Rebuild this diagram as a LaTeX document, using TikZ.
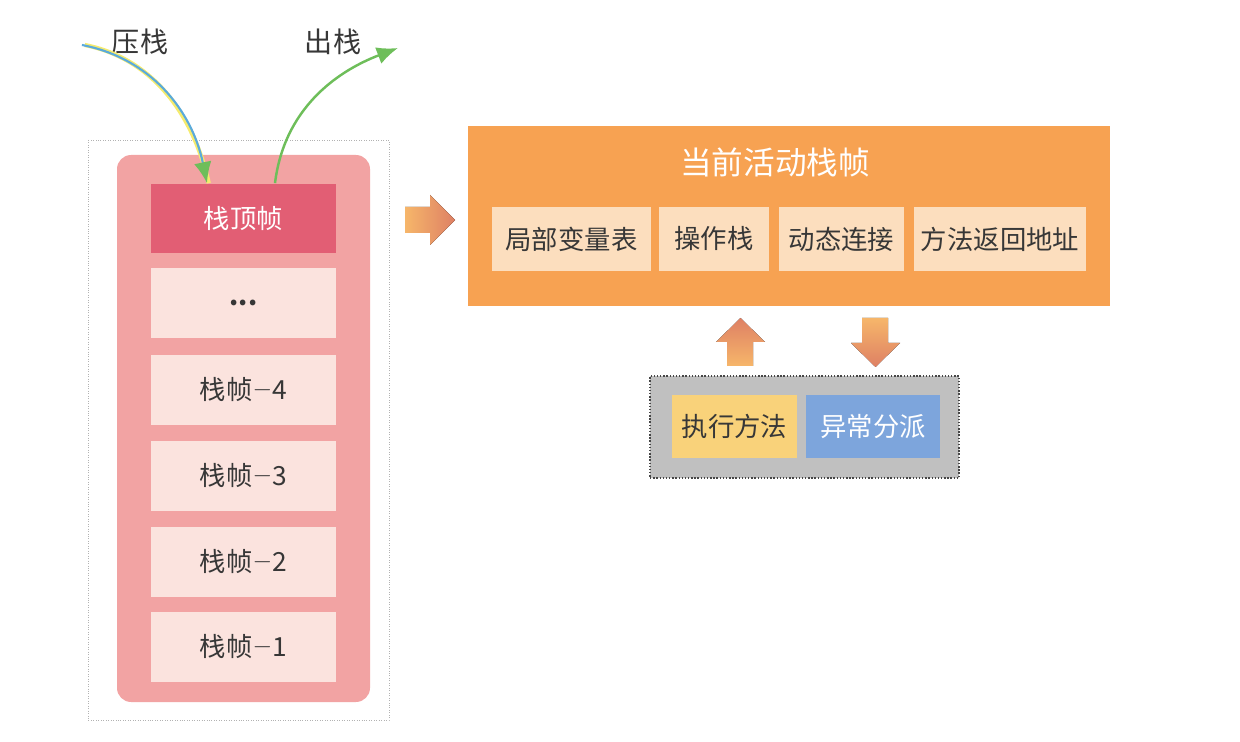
\documentclass[tikz,border=0pt]{standalone}
\usepackage{fontspec}
\setmainfont{Noto Sans CJK SC}
\usetikzlibrary{arrows.meta}

\definecolor{stackpink}{RGB}{242,163,163}
\definecolor{topred}{RGB}{226,94,116}
\definecolor{framelight}{RGB}{251,227,222}
\definecolor{activeorange}{RGB}{247,162,82}
\definecolor{partfill}{RGB}{252,222,190}
\definecolor{panelgray}{RGB}{192,192,192}
\definecolor{execyellow}{RGB}{249,210,122}
\definecolor{excblue}{RGB}{125,165,220}
\definecolor{textgray}{RGB}{55,55,55}
\definecolor{pushblue}{RGB}{90,170,220}
\definecolor{pushyellow}{RGB}{245,235,110}
\definecolor{popgreen}{RGB}{110,190,90}
\definecolor{arrowlight}{RGB}{246,182,106}
\definecolor{arrowdark}{RGB}{222,128,100}

\newcommand{\fdash}{\raisebox{0.12em}{$-$}}

\begin{document}
\begin{tikzpicture}[x=0.02cm,y=-0.02cm,
	frame/.style={fill=framelight, minimum width=3.7cm, minimum height=1.4cm, inner sep=0pt, text=textgray, font=\fontsize{15}{18}\selectfont},
	part/.style={fill=partfill, minimum height=1.28cm, inner sep=0pt, text=textgray, font=\fontsize{15}{18}\selectfont},
	handler/.style={minimum height=1.26cm, inner sep=0pt, font=\fontsize{15}{18}\selectfont}]
		\useasboundingbox (0,0) rectangle (1240,742);
		% stack
		\draw[gray!60, densely dotted] (88,140) rectangle (389,720);
		\fill[stackpink, rounded corners=8pt] (117,155) rectangle (370,702);
		\node[frame, fill=topred, text=white] (top) at (243.5,218.5) {栈顶帧};
		\node[frame] (more) at (243.5,303) {\textbf{...}};
		\node[frame] (f4) at (243.5,390) {栈帧\fdash4};
		\node[frame] (f3) at (243.5,476) {栈帧\fdash3};
		\node[frame] (f2) at (243.5,562) {栈帧\fdash2};
		\node[frame] (f1) at (243.5,647) {栈帧\fdash1};
		% push / pop
		\node[text=textgray, font=\fontsize{16}{19}\selectfont] (push) at (140,42) {压栈};
		\node[text=textgray, font=\fontsize{16}{19}\selectfont] (pop) at (333,42) {出栈};
		\coordinate (pushstart) at (83,45);
		\coordinate (popend) at (398,48);
		\draw[pushyellow, line width=2.4pt] ([xshift=1pt]pushstart) .. controls (150,58) and (192,110) .. ([xshift=1pt]top.north -| 207,0);
		\draw[pushblue, line width=1.2pt, -{Latex[length=12pt, width=10pt, color=popgreen]}] ([xshift=-0.6pt]pushstart) .. controls (150,58) and (192,110) .. (top.north -| 207,0);
		\draw[popgreen, line width=1.4pt, -{Latex[length=12pt, width=10pt]}] (top.north -| 275,0) .. controls (284,110) and (335,72) .. (popend);
		% active frame
		\node[fill=activeorange, minimum width=12.84cm, minimum height=3.6cm, inner sep=0pt] (active) at (789,216) {};
		\node[text=white, font=\fontsize{18}{22}\selectfont] (title) at (775,162) {当前活动栈帧};
		\node[part, minimum width=3.18cm] (locals) at (571.5,239) {局部变量表};
		\node[part, minimum width=2.2cm] (operand) at (714,239) {操作栈};
		\node[part, minimum width=2.5cm] (dynlink) at (841.5,239) {动态连接};
		\node[part, minimum width=3.44cm] (retaddr) at (1000,239) {方法返回地址};
		\fill[left color=arrowlight, right color=arrowdark] (405,207) -- (430,207) -- (430,195) -- (455,220) -- (430,245) -- (430,233) -- (405,233) -- cycle;
		% handlers
		\node[fill=panelgray, draw=gray!55!black, line width=0.8pt, densely dotted, minimum width=6.18cm, minimum height=2.04cm, inner sep=0pt] (panel) at (804.5,427) {};
		\node[handler, fill=execyellow, text=textgray, minimum width=2.5cm] (exec) at (734.5,426.5) {执行方法};
		\node[handler, fill=excblue, text=white, minimum width=2.68cm] (dispatch) at (873,426.5) {异常分派};
		\fill[bottom color=arrowlight, top color=arrowdark] (727,366) -- (727,342) -- (716,342) -- (740.5,318) -- (765,342) -- (753,342) -- (753,366) -- cycle;
		\fill[top color=arrowlight, bottom color=arrowdark] (862,318) -- (862,343) -- (851,343) -- (875.5,367) -- (900,343) -- (888,343) -- (888,318) -- cycle;
\end{tikzpicture}
\end{document}
